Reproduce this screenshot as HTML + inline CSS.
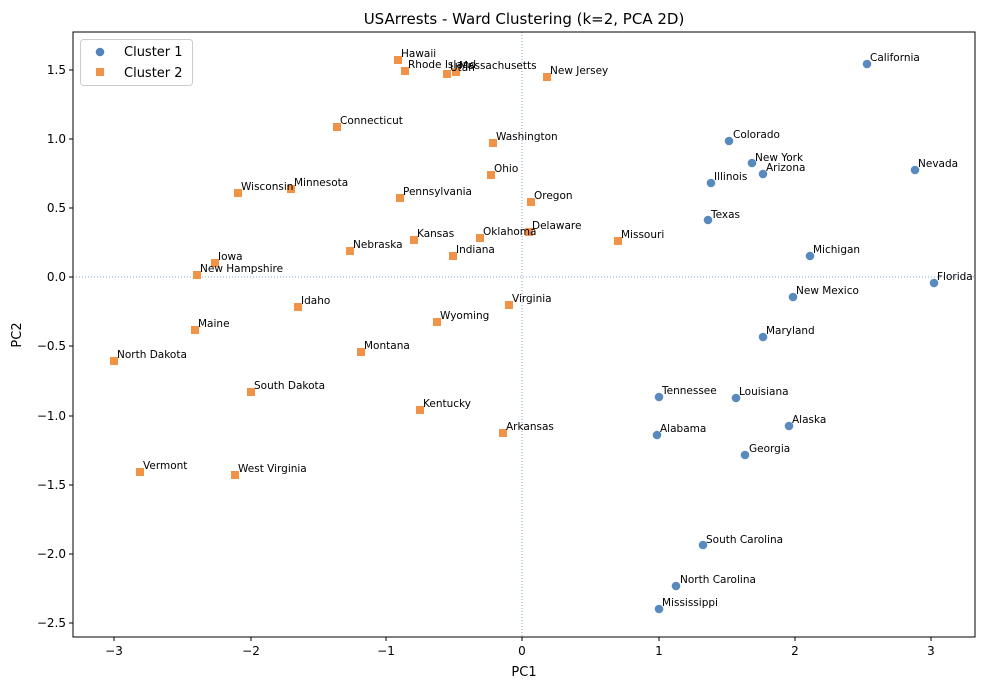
<!DOCTYPE html>
<html><head><meta charset="utf-8"><style>
html,body{margin:0;padding:0;background:#fff;}
svg{display:block;font-family:"DejaVu Sans","Liberation Sans",sans-serif;}
</style></head><body>
<svg width="984" height="690" viewBox="0 0 984 690" xmlns="http://www.w3.org/2000/svg">
<rect width="984" height="690" fill="#fff"/>
<text x="524" y="24" font-size="15" text-anchor="middle" fill="#000">USArrests - Ward Clustering (k=2, PCA 2D)</text>
<line x1="522" y1="32" x2="522" y2="637" stroke="#5b8fc4" stroke-width="0.8" stroke-dasharray="1,2"/>
<line x1="73" y1="277" x2="975" y2="277" stroke="#5b8fc4" stroke-width="0.8" stroke-dasharray="1,2"/>
<g id="c1" fill="#5084bb" fill-opacity="0.95">
<circle cx="867" cy="64" r="4.3"/><circle cx="729" cy="141" r="4.3"/><circle cx="752" cy="163" r="4.3"/><circle cx="763" cy="174" r="4.3"/><circle cx="915" cy="170" r="4.3"/><circle cx="711" cy="183" r="4.3"/><circle cx="708" cy="220" r="4.3"/><circle cx="810" cy="256" r="4.3"/><circle cx="934" cy="283" r="4.3"/><circle cx="793" cy="297" r="4.3"/><circle cx="763" cy="337" r="4.3"/><circle cx="659" cy="397" r="4.3"/><circle cx="736" cy="398" r="4.3"/><circle cx="789" cy="426" r="4.3"/><circle cx="657" cy="435" r="4.3"/><circle cx="745" cy="455" r="4.3"/><circle cx="703" cy="545" r="4.3"/><circle cx="676" cy="586" r="4.3"/><circle cx="659" cy="609" r="4.3"/>
</g>
<g fill="#f09346">
<rect x="394" y="56" width="8" height="8"/><rect x="401" y="67" width="8" height="8"/><rect x="443" y="70" width="8" height="8"/><rect x="452" y="68" width="8" height="8"/><rect x="543" y="73" width="8" height="8"/><rect x="333" y="123" width="8" height="8"/><rect x="489" y="139" width="8" height="8"/><rect x="487" y="171" width="8" height="8"/><rect x="234" y="189" width="8" height="8"/><rect x="287" y="185" width="8" height="8"/><rect x="396" y="194" width="8" height="8"/><rect x="527" y="198" width="8" height="8"/><rect x="410" y="236" width="8" height="8"/><rect x="525" y="228" width="8" height="8"/><rect x="476" y="234" width="8" height="8"/><rect x="614" y="237" width="8" height="8"/><rect x="346" y="247" width="8" height="8"/><rect x="449" y="252" width="8" height="8"/><rect x="211" y="259" width="8" height="8"/><rect x="193" y="271" width="8" height="8"/><rect x="294" y="303" width="8" height="8"/><rect x="505" y="301" width="8" height="8"/><rect x="433" y="318" width="8" height="8"/><rect x="191" y="326" width="8" height="8"/><rect x="357" y="348" width="8" height="8"/><rect x="110" y="357" width="8" height="8"/><rect x="247" y="388" width="8" height="8"/><rect x="416" y="406" width="8" height="8"/><rect x="499" y="429" width="8" height="8"/><rect x="136" y="468" width="8" height="8"/><rect x="231" y="471" width="8" height="8"/>
</g>
<g font-size="10.5" fill="#000">
<text x="870" y="61">California</text><text x="733" y="138">Colorado</text><text x="755" y="161">New York</text><text x="766" y="171">Arizona</text><text x="918" y="167">Nevada</text><text x="714" y="180">Illinois</text><text x="711" y="218">Texas</text><text x="813" y="253">Michigan</text><text x="937" y="280">Florida</text><text x="796" y="294">New Mexico</text><text x="766" y="334">Maryland</text><text x="662" y="394">Tennessee</text><text x="739" y="395">Louisiana</text><text x="792" y="423">Alaska</text><text x="660" y="432">Alabama</text><text x="749" y="452">Georgia</text><text x="706" y="543">South Carolina</text><text x="680" y="583">North Carolina</text><text x="662" y="606">Mississippi</text>
<text x="401" y="57">Hawaii</text><text x="408" y="68">Rhode Island</text><text x="450" y="71">Utah</text><text x="459" y="69">Massachusetts</text><text x="550" y="74">New Jersey</text><text x="340" y="124">Connecticut</text><text x="496" y="140">Washington</text><text x="494" y="172">Ohio</text><text x="241" y="190">Wisconsin</text><text x="294" y="186">Minnesota</text><text x="403" y="195">Pennsylvania</text><text x="534" y="199">Oregon</text><text x="417" y="237">Kansas</text><text x="532" y="229">Delaware</text><text x="483" y="235">Oklahoma</text><text x="621" y="238">Missouri</text><text x="353" y="248">Nebraska</text><text x="456" y="253">Indiana</text><text x="218" y="260">Iowa</text><text x="200" y="272">New Hampshire</text><text x="301" y="304">Idaho</text><text x="512" y="302">Virginia</text><text x="440" y="319">Wyoming</text><text x="198" y="327">Maine</text><text x="364" y="349">Montana</text><text x="117" y="358">North Dakota</text><text x="254" y="389">South Dakota</text><text x="423" y="407">Kentucky</text><text x="506" y="430">Arkansas</text><text x="143" y="469">Vermont</text><text x="238" y="472">West Virginia</text>
</g>
<rect x="73" y="32" width="902" height="605" fill="none" stroke="#000" stroke-width="1"/>
<g stroke="#000" stroke-width="1">
<line x1="114" y1="637" x2="114" y2="641"/><line x1="251" y1="637" x2="251" y2="641"/><line x1="386" y1="637" x2="386" y2="641"/><line x1="522" y1="637" x2="522" y2="641"/><line x1="659" y1="637" x2="659" y2="641"/><line x1="795" y1="637" x2="795" y2="641"/><line x1="931" y1="637" x2="931" y2="641"/>
<line x1="69" y1="70" x2="73" y2="70"/><line x1="69" y1="139" x2="73" y2="139"/><line x1="69" y1="208" x2="73" y2="208"/><line x1="69" y1="277" x2="73" y2="277"/><line x1="69" y1="346" x2="73" y2="346"/><line x1="69" y1="416" x2="73" y2="416"/><line x1="69" y1="485" x2="73" y2="485"/><line x1="69" y1="554" x2="73" y2="554"/><line x1="69" y1="623" x2="73" y2="623"/>
</g>
<g font-size="12" fill="#000" text-anchor="middle">
<text x="114" y="655">−3</text><text x="251" y="655">−2</text><text x="386" y="655">−1</text><text x="522" y="655">0</text><text x="659" y="655">1</text><text x="795" y="655">2</text><text x="931" y="655">3</text>
<text x="524" y="676" font-size="13">PC1</text>
</g>
<g font-size="12" fill="#000" text-anchor="end">
<text x="66" y="74">1.5</text><text x="66" y="143">1.0</text><text x="66" y="212">0.5</text><text x="66" y="281">0.0</text><text x="66" y="350">−0.5</text><text x="66" y="420">−1.0</text><text x="66" y="489">−1.5</text><text x="66" y="558">−2.0</text><text x="66" y="627">−2.5</text>
</g>
<text x="21" y="335" font-size="13" text-anchor="middle" transform="rotate(-90 21 335)">PC2</text>
<rect x="80.5" y="39.5" width="112" height="46" rx="3" fill="#fff" fill-opacity="0.8" stroke="#ccc"/>
<circle cx="100" cy="52" r="4.3" fill="#5084bb"/>
<rect x="96" y="68" width="8" height="8" fill="#f09346"/>
<text x="124" y="56" font-size="13">Cluster 1</text>
<text x="124" y="77" font-size="13">Cluster 2</text>
</svg>
</body></html>
